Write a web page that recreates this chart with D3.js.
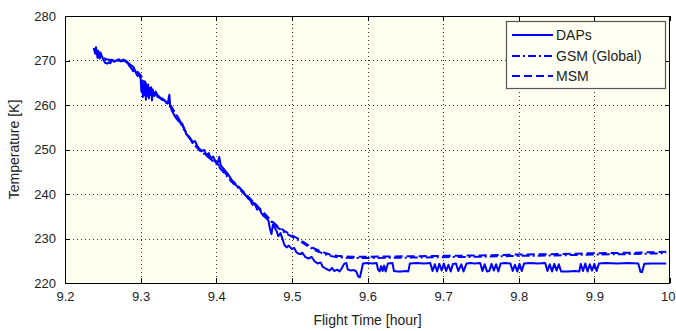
<!DOCTYPE html>
<html>
<head>
<meta charset="utf-8">
<script src="https://cdn.jsdelivr.net/npm/d3@7"></script>
<style>
  html, body { margin: 0; padding: 0; background: #ffffff; }
  svg { display: block; }
  text { font-family: "Liberation Sans", Arial, sans-serif; fill: #222; }
</style>
</head>
<body>
<svg id="chart" width="676" height="331"></svg>
<script>
// Axis tick values
const xTicks = [9.2, 9.3, 9.4, 9.5, 9.6, 9.7, 9.8, 9.9, 10];
const yTicks = [220, 230, 240, 250, 260, 270, 280];

// Observed temperature (DAPs): [flight time in hours, temperature in K]
const daps = [
  [9.238,272.8],[9.240,271.5],[9.241,273.0],[9.243,270.6],[9.244,272.2],[9.246,270.4],
  [9.247,271.8],[9.249,270.9],[9.251,270.1],[9.253,269.5],[9.256,269.3],[9.258,269.6],
  [9.260,269.4],[9.262,270.2],[9.265,269.7],[9.268,270.0],[9.271,270.3],[9.274,269.8],
  [9.277,270.2],[9.280,270.0],[9.283,269.6],[9.285,268.8],[9.288,268.2],[9.290,267.6],
  [9.292,268.0],[9.294,267.1],[9.296,266.5],[9.298,266.8],[9.300,265.9],
  [9.301,263.0],[9.302,265.5],[9.303,261.8],[9.304,264.8],[9.305,262.2],[9.306,265.2],
  [9.307,261.2],[9.308,264.2],[9.309,262.0],[9.310,264.6],[9.311,261.5],[9.312,263.8],
  [9.313,262.3],[9.314,264.0],[9.315,261.0],[9.316,263.5],[9.318,262.0],[9.320,263.0],
  [9.322,262.3],[9.325,261.8],[9.328,261.2],[9.331,261.0],[9.334,260.6],[9.336,260.3],
  [9.337,261.5],[9.338,262.3],[9.339,260.0],[9.341,258.8],[9.343,258.2],
  [9.345,257.5],[9.350,256.4],[9.355,255.8],[9.360,253.6],[9.365,252.6],[9.368,251.6],
  [9.372,251.9],[9.376,250.4],[9.380,249.6],[9.384,249.9],[9.387,248.6],[9.390,249.2],
  [9.393,248.0],[9.396,248.4],[9.399,247.3],[9.402,247.0],[9.404,248.3],[9.406,246.4],
  [9.409,245.8],[9.412,245.2],[9.415,244.6],[9.418,243.8],[9.421,243.0],[9.424,242.6],
  [9.427,241.8],[9.430,241.6],[9.433,240.9],[9.436,240.4],[9.439,239.7],[9.442,239.0],
  [9.445,238.6],[9.448,237.6],[9.451,237.9],[9.454,236.5],[9.457,236.8],[9.460,235.6],
  [9.463,235.0],[9.466,234.6],[9.469,234.0],[9.471,232.2],[9.473,231.0],[9.475,233.2],
  [9.477,232.5],[9.480,231.6],[9.482,230.5],[9.485,231.2],[9.488,229.7],[9.490,228.6],
  [9.493,228.0],[9.496,228.4],[9.500,227.6],[9.503,227.9],[9.506,226.9],[9.510,226.5],
  [9.514,226.8],[9.518,225.8],[9.522,225.5],[9.526,225.9],[9.530,224.9],[9.534,224.4],
  [9.538,224.6],[9.541,223.6],[9.545,223.2],
  [9.550,222.8],[9.553,223.4],[9.556,222.7],[9.560,223.0],[9.563,222.6],[9.566,223.3],
  [9.569,224.3],[9.572,224.5],[9.574,223.0],[9.578,222.8],[9.582,222.9],[9.585,222.6],
  [9.588,221.4],[9.590,221.3],[9.592,222.8],[9.594,224.4],[9.600,224.5],[9.607,224.4],
  [9.612,224.5],[9.614,223.0],[9.616,222.6],[9.618,223.8],[9.620,222.7],[9.622,223.9],
  [9.624,222.6],[9.627,224.4],[9.633,224.5],[9.635,222.7],[9.640,222.6],[9.645,222.6],
  [9.650,222.7],[9.654,222.6],[9.656,224.4],[9.665,224.5],[9.675,224.4],[9.683,224.5],
  [9.686,222.7],[9.689,224.2],[9.692,222.6],[9.695,224.3],[9.698,222.8],[9.701,224.4],
  [9.704,222.7],[9.707,224.1],[9.710,222.6],[9.713,224.3],[9.717,224.4],[9.720,222.7],
  [9.724,224.2],[9.727,222.6],[9.731,224.4],[9.736,224.5],[9.742,224.4],[9.749,224.5],
  [9.752,222.7],[9.755,224.2],[9.758,222.6],[9.761,222.7],[9.764,224.3],[9.767,222.8],
  [9.770,224.2],[9.773,222.6],[9.776,224.4],[9.782,224.5],[9.789,224.4],[9.792,222.7],
  [9.795,224.1],[9.798,222.6],[9.801,224.3],[9.804,222.7],[9.807,224.4],[9.815,224.5],
  [9.825,224.4],[9.835,224.5],[9.838,222.7],[9.841,224.2],[9.844,222.6],[9.847,224.3],
  [9.850,222.8],[9.853,224.2],[9.856,222.6],[9.865,222.6],[9.875,222.7],[9.880,222.6],
  [9.882,224.3],[9.885,222.7],[9.888,224.4],[9.891,222.6],[9.894,224.2],[9.897,222.8],
  [9.900,224.3],[9.903,222.7],[9.906,224.4],[9.915,224.5],[9.930,224.4],[9.945,224.5],
  [9.958,224.4],[9.961,222.5],[9.963,222.4],[9.966,224.3],[9.975,224.4],[9.985,224.4],
  [9.995,224.4]
];

// GSM (Global) model temperature along the flight path
const gsm = [
  [9.240,272.0],[9.250,270.6],[9.260,270.0],[9.280,269.8],[9.290,268.4],[9.300,266.4],
  [9.310,263.6],[9.320,262.1],[9.330,261.1],[9.340,259.5],[9.350,256.8],[9.360,253.6],
  [9.370,251.2],[9.380,249.5],[9.390,248.2],[9.400,246.8],[9.410,244.8],[9.420,242.8],
  [9.430,241.2],[9.440,239.5],[9.450,237.8],[9.460,236.0],[9.470,234.2],[9.480,232.6],
  [9.490,231.4],[9.500,230.4],[9.510,229.5],[9.520,228.4],[9.530,227.4],[9.540,226.7],
  [9.550,226.1],[9.560,225.8],[9.580,225.6],[9.600,225.6],[9.650,225.7],[9.700,225.8],
  [9.750,225.9],[9.800,226.1],[9.850,226.2],[9.900,226.4],[9.950,226.5],[9.995,226.7]
];

// MSM (mesoscale) model temperature along the flight path
const msm = [
  [9.240,271.8],[9.250,270.4],[9.260,270.1],[9.280,269.9],[9.290,268.6],[9.300,266.7],
  [9.310,263.9],[9.320,262.3],[9.330,261.3],[9.340,259.8],[9.350,257.1],[9.360,253.9],
  [9.370,251.5],[9.380,249.8],[9.390,248.5],[9.400,247.1],[9.410,245.1],[9.420,243.1],
  [9.430,241.5],[9.440,239.8],[9.450,238.1],[9.460,236.3],[9.470,234.5],[9.480,232.9],
  [9.490,231.7],[9.500,230.7],[9.510,229.8],[9.520,228.7],[9.530,227.7],[9.540,227.0],
  [9.550,226.4],[9.560,226.1],[9.580,225.9],[9.600,225.9],[9.650,226.0],[9.700,226.1],
  [9.750,226.2],[9.800,226.4],[9.850,226.5],[9.900,226.7],[9.950,226.8],[9.995,227.0]
];

const seriesNames = ["DAPs", "GSM (Global)", "MSM"];

const svg = d3.select("#chart");
const W = 676, H = 331;
const margin = { left: 65, right: 6, top: 16, bottom: 48 };
const plotW = W - margin.left - margin.right;
const plotH = H - margin.top - margin.bottom;

const x = d3.scaleLinear().domain([9.2, 10]).range([margin.left, margin.left + plotW]);
const y = d3.scaleLinear().domain([220, 280]).range([margin.top + plotH, margin.top]);

// Plot background
svg.append("rect")
  .attr("x", margin.left).attr("y", margin.top)
  .attr("width", plotW).attr("height", plotH)
  .attr("fill", "#fffff0");

// Dotted grid
const grid = svg.append("g").attr("stroke", "#333").attr("stroke-width", 1)
  .attr("stroke-dasharray", "1,3").attr("shape-rendering", "crispEdges");
grid.selectAll("line.gx").data(xTicks.slice(1, -1)).enter().append("line")
  .attr("x1", d => Math.round(x(d)) + 0.5).attr("x2", d => Math.round(x(d)) + 0.5)
  .attr("y1", margin.top).attr("y2", margin.top + plotH);
grid.selectAll("line.gy").data(yTicks.slice(1, -1)).enter().append("line")
  .attr("y1", d => Math.round(y(d)) + 0.5).attr("y2", d => Math.round(y(d)) + 0.5)
  .attr("x1", margin.left).attr("x2", margin.left + plotW);

// Data lines
const line = d3.line().x(d => x(d[0])).y(d => y(d[1]));
const plot = svg.append("g");
plot.append("path").datum(gsm).attr("d", line)
  .attr("fill", "none").attr("stroke", "#0000ff").attr("stroke-width", 2)
  .attr("stroke-dasharray", "8,3,2,3");
plot.append("path").datum(msm).attr("d", line)
  .attr("fill", "none").attr("stroke", "#0000ff").attr("stroke-width", 2)
  .attr("stroke-dasharray", "8,4");
plot.append("path").datum(daps).attr("d", line)
  .attr("fill", "none").attr("stroke", "#0000ff").attr("stroke-width", 2)
  .attr("stroke-linejoin", "round");

// Axes with inward ticks (bottom/left labelled, top/right ticks only)
const fmtX = d => (d === 10 ? "10" : d3.format(".1f")(d));
const axB = d3.axisBottom(x).tickValues(xTicks).tickSize(-5).tickPadding(9).tickFormat(fmtX);
const axT = d3.axisTop(x).tickValues(xTicks).tickSize(-5).tickFormat("");
const axL = d3.axisLeft(y).tickValues(yTicks).tickSize(-5).tickPadding(9).tickFormat(d3.format("d"));
const axR = d3.axisRight(y).tickValues(yTicks).tickSize(-5).tickFormat("");

function styleAxis(g) {
  g.select(".domain").remove();
  g.selectAll(".tick line").attr("stroke", "#000").attr("shape-rendering", "crispEdges");
  g.selectAll(".tick text").attr("font-size", 13).attr("fill", "#222")
    .attr("font-family", "'Liberation Sans', Arial, sans-serif");
}
const gB = svg.append("g").attr("transform", `translate(0,${margin.top + plotH})`).call(axB).call(styleAxis);
// keep the last label inside the canvas
gB.selectAll(".tick text").filter(d => d === 10)
  .attr("text-anchor", "end").attr("dx", (W - 1) - x(10));
svg.append("g").attr("transform", `translate(0,${margin.top})`).call(axT).call(styleAxis);
svg.append("g").attr("transform", `translate(${margin.left},0)`).call(axL).call(styleAxis);
svg.append("g").attr("transform", `translate(${margin.left + plotW},0)`).call(axR).call(styleAxis);

// Axes box
svg.append("rect")
  .attr("x", margin.left + 0.5).attr("y", margin.top + 0.5)
  .attr("width", plotW - 1).attr("height", plotH)
  .attr("fill", "none").attr("stroke", "#000").attr("stroke-width", 1)
  .attr("shape-rendering", "crispEdges");

// Axis titles
svg.append("text")
  .attr("x", margin.left + plotW / 2).attr("y", 325)
  .attr("text-anchor", "middle").attr("font-size", 14)
  .text("Flight Time [hour]");
svg.append("text")
  .attr("transform", `translate(19,${margin.top + plotH / 2}) rotate(-90)`)
  .attr("text-anchor", "middle").attr("font-size", 14)
  .text("Temperature [K]");

// Legend
const lg = svg.append("g");
lg.append("rect")
  .attr("x", 506.5).attr("y", 21.5).attr("width", 159).attr("height", 67)
  .attr("fill", "#fffff4").attr("stroke", "#555").attr("stroke-width", 1.2);
const legendDash = [null, "8,3,2,3", "8,4"];
const legendRows = [35, 56, 76];
seriesNames.forEach((name, i) => {
  lg.append("line")
    .attr("x1", 512).attr("x2", 553)
    .attr("y1", legendRows[i]).attr("y2", legendRows[i])
    .attr("stroke", "#0000ff").attr("stroke-width", 2)
    .attr("stroke-dasharray", legendDash[i]);
  lg.append("text")
    .attr("x", 556).attr("y", legendRows[i] + 5)
    .attr("font-size", 14)
    .text(name);
});
</script>
</body>
</html>
